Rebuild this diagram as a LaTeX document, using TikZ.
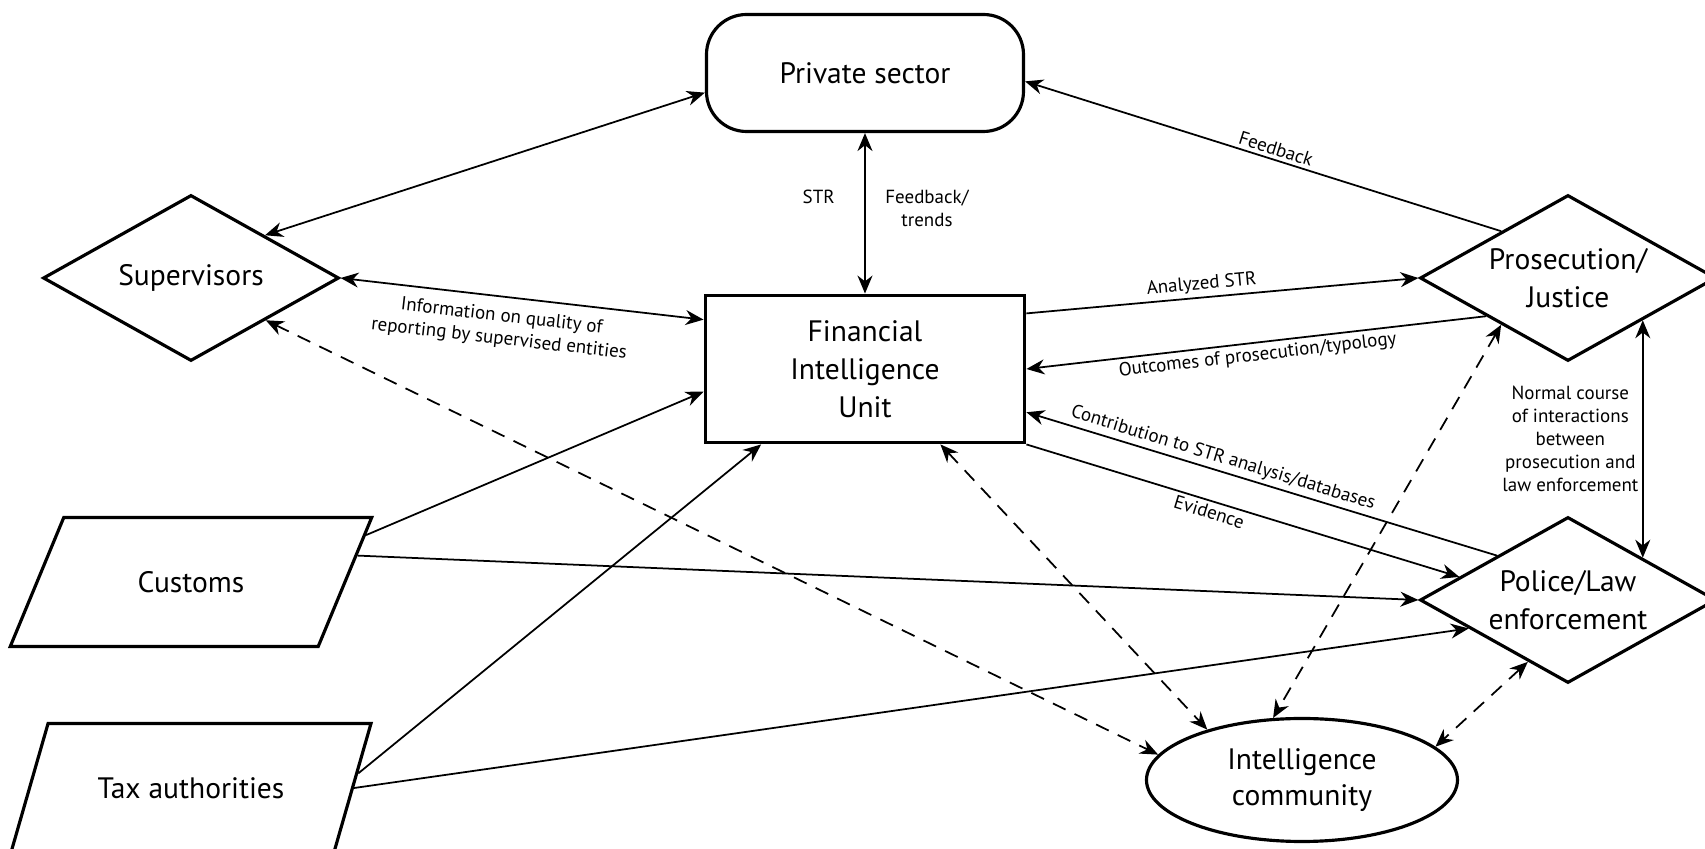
\documentclass[tikz,border=0pt]{standalone}
\usepackage{fontspec}
\setmainfont{PT Sans}
\usetikzlibrary{arrows.meta, shapes.geometric}
\tikzstyle{fRounded} = [rectangle, rounded corners=0.4cm, minimum width=3.17cm, minimum height=1.17cm, text centered, draw=black, line width=0.9pt, font=\fontsize{8.4}{10.8}\selectfont]
\tikzstyle{fUnit} = [rectangle, minimum width=3.19cm, minimum height=1.47cm, align=center, draw=black, line width=1.1pt, font=\fontsize{8.4}{10.8}\selectfont]
\tikzstyle{fDiamond} = [diamond, aspect=1.78, minimum width=2.96cm, minimum height=1.66cm, inner sep=0pt, align=center, draw=black, line width=0.9pt, font=\fontsize{8.4}{10.9}\selectfont]
\tikzstyle{fSlanted} = [trapezium, trapezium stretches=true, trapezium left angle=58.6, trapezium right angle=121.4, minimum width=3.62cm, minimum height=1.29cm, text centered, draw=black, line width=0.9pt, font=\fontsize{8.4}{10.8}\selectfont]
\tikzstyle{fOval} = [ellipse, minimum width=3.11cm, minimum height=1.23cm, inner sep=0pt, align=center, draw=black, line width=0.9pt, font=\fontsize{8.4}{10.4}\selectfont]
\tikzstyle{fLabel} = [font=\fontsize{5.4}{6.5}\selectfont, inner sep=1pt]
\tikzstyle{fArrow} = [line width=0.5pt, -{Stealth[length=1.8mm, width=1.5mm]}]
\tikzstyle{fBoth} = [line width=0.5pt, {Stealth[length=1.8mm, width=1.5mm]}-{Stealth[length=1.8mm, width=1.5mm]}]
\tikzstyle{fDashed} = [fBoth, dash pattern=on 1.4mm off 1mm]

\begin{document}
\begin{tikzpicture}[node distance=3cm]
    \useasboundingbox (-8.65,-4.80) rectangle (8.40,3.69);
    \node (fiu) [fUnit] {Financial\\Intelligence\\Unit};
    \node (private) [fRounded, above of=fiu, yshift=-0.04cm] {Private sector};
    \node (sup) [fDiamond, left of=fiu, xshift=-3.74cm, yshift=0.91cm] {Supervisors};
    \node (pros) [fDiamond, right of=fiu, xshift=4.03cm, yshift=0.91cm] {Prosecution/\\Justice};
    \node (police) [fDiamond, below of=pros, yshift=-0.22cm] {Police/Law\\enforcement};
    \node (customs) [fSlanted, left of=fiu, xshift=-3.74cm, yshift=-2.13cm] {Customs};
    \node (tax) [fSlanted, below of=customs, yshift=0.94cm] {Tax authorities};
    \node (intel) [fOval, below of=fiu, xshift=4.37cm, yshift=-1.11cm] {Intelligence\\community};

    \draw [fBoth] (sup.30) -- (private.187);
    \draw [fBoth] (sup.east) -- node[fLabel, below=2pt, sloped, align=center, pos=0.45] {Information on quality of\\reporting by supervised entities} (fiu.163);
    \draw [fBoth] (private) -- node[fLabel, left, pos=0.4, xshift=-0.26cm] {STR} node[fLabel, right, align=center, pos=0.47, xshift=0.16cm] {Feedback/\\trends} (fiu);
    \draw [fArrow] (customs.15) -- (fiu.188);
    \draw [fArrow] (customs.9) -- (police.west);
    \draw [fArrow] (tax.5) -- (fiu.216);
    \draw [fArrow] (tax.east) -- (police.196);
    \draw [fArrow] (fiu.19) -- node[fLabel, above, sloped, pos=0.45] {Analyzed STR} (pros.west);
    \draw [fArrow] (pros.205) -- node[fLabel, below, sloped] {Outcomes of prosecution/typology} (fiu.east);
    \draw [fArrow] (pros.145) -- node[fLabel, above, sloped, pos=0.48] {Feedback} (private.-3);
    \draw [fBoth] (pros.south east) -- node[fLabel, left, align=center] {Normal course\\of interactions\\between\\prosecution and\\law enforcement} (pros.south east |- police.north east);
    \draw [fArrow] (police.148) -- node[fLabel, above, sloped, pos=0.59] {Contribution to STR analysis/databases} (fiu.-15);
    \draw [fArrow] (fiu.south east) -- node[fLabel, below, sloped, pos=0.43] {Evidence} (police.168);
    \draw [fDashed] (sup.south east) -- (intel.170);
    \draw [fDashed] (fiu.-45) -- (intel.152);
    \draw [fDashed] (pros.215) -- (intel.115);
    \draw [fDashed] (police.237) -- (intel.14);
\end{tikzpicture}
\end{document}
